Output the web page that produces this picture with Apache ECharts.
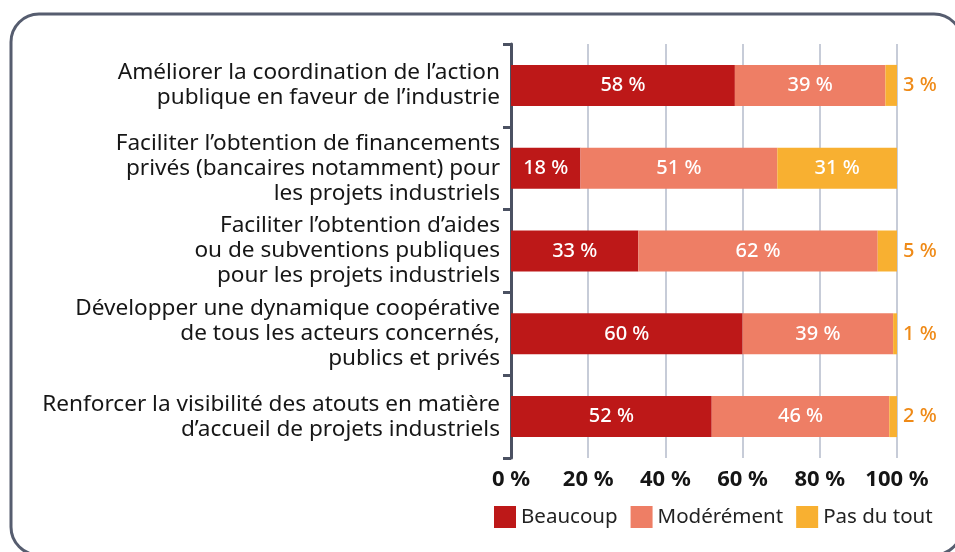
<!DOCTYPE html>
<html>
<head>
<meta charset="utf-8">
<script src="https://cdn.jsdelivr.net/npm/echarts@6/dist/echarts.min.js"></script>
<style>
  html, body { margin: 0; padding: 0; background: #fff; }
  #chart { width: 955px; height: 552px; }
</style>
</head>
<body>
<div id="chart"></div>
<script>
const categories = [
  'Améliorer la coordination de l\u2019action\npublique en faveur de l\u2019industrie',
  'Faciliter l\u2019obtention de financements\nprivés (bancaires notamment) pour\nles projets industriels',
  'Faciliter l\u2019obtention d\u2019aides\nou de subventions publiques\npour les projets industriels',
  'Développer une dynamique coopérative\nde tous les acteurs concernés,\npublics et privés',
  'Renforcer la visibilité des atouts en matière\nd\u2019accueil de projets industriels'
];
const beaucoup = [58, 18, 33, 60, 52];
const moderement = [39, 51, 62, 39, 46];
const pasDuTout = [3, 31, 5, 1, 2];
const xTicks = [0, 20, 40, 60, 80, 100];

const chart = echarts.init(document.getElementById('chart'));

const insideLabel = {
  show: true,
  position: 'inside',
  color: '#fff',
  fontFamily: 'Noto Sans',
  fontSize: 20,
  fontWeight: 500,
  formatter: p => p.value + ' %'
};

// small values go outside the bar, in orange
const pasData = pasDuTout.map(v => v < 10 ? {
  value: v,
  label: { position: 'right', color: '#ef8a17', distance: 6 }
} : v);

const option = {
  animation: false,
  backgroundColor: '#fff',
  graphic: [{
    type: 'rect',
    shape: { x: 11, y: 14, width: 951, height: 541, r: 28 },
    style: { fill: 'none', stroke: '#565d6f', lineWidth: 3 },
    z: 100
  }],
  grid: { left: 511, right: 58, top: 44, bottom: 94 },
  legend: {
    left: 494,
    top: 506,
    padding: 0,
    itemWidth: 22,
    itemHeight: 22,
    itemGap: 13,
    icon: 'rect',
    textStyle: { fontFamily: 'Noto Sans', fontSize: 20.5, color: '#222' },
    data: ['Beaucoup', 'Modérément', 'Pas du tout']
  },
  xAxis: {
    type: 'value',
    min: 0,
    max: 100,
    interval: 20,
    axisLine: { show: false },
    axisTick: { show: false },
    splitLine: { lineStyle: { color: '#b4bbcb', width: 1.5 } },
    axisLabel: {
      margin: 11,
      fontFamily: 'Noto Sans',
      fontSize: 22,
      fontWeight: 'bold',
      color: '#151515',
      formatter: v => xTicks.includes(v) ? v + ' %' : ''
    }
  },
  yAxis: {
    type: 'category',
    inverse: true,
    data: categories,
    axisLine: { show: true, lineStyle: { color: '#4b5162', width: 3 } },
    axisTick: { show: true, inside: false, length: 8, lineStyle: { color: '#4b5162', width: 3 } },
    axisLabel: {
      margin: 11,
      fontFamily: 'Noto Sans',
      fontSize: 22.6,
      lineHeight: 25,
      color: '#161616',
      align: 'right'
    }
  },
  series: [
    {
      name: 'Beaucoup', type: 'bar', stack: 'total', barWidth: 41,
      itemStyle: { color: '#bd1818' }, label: insideLabel, data: beaucoup
    },
    {
      name: 'Modérément', type: 'bar', stack: 'total', barWidth: 41,
      itemStyle: { color: '#ee7e65' }, label: insideLabel, data: moderement
    },
    {
      name: 'Pas du tout', type: 'bar', stack: 'total', barWidth: 41,
      itemStyle: { color: '#f8b031' }, label: insideLabel, data: pasData
    }
  ]
};

chart.setOption(option);
</script>
</body>
</html>
